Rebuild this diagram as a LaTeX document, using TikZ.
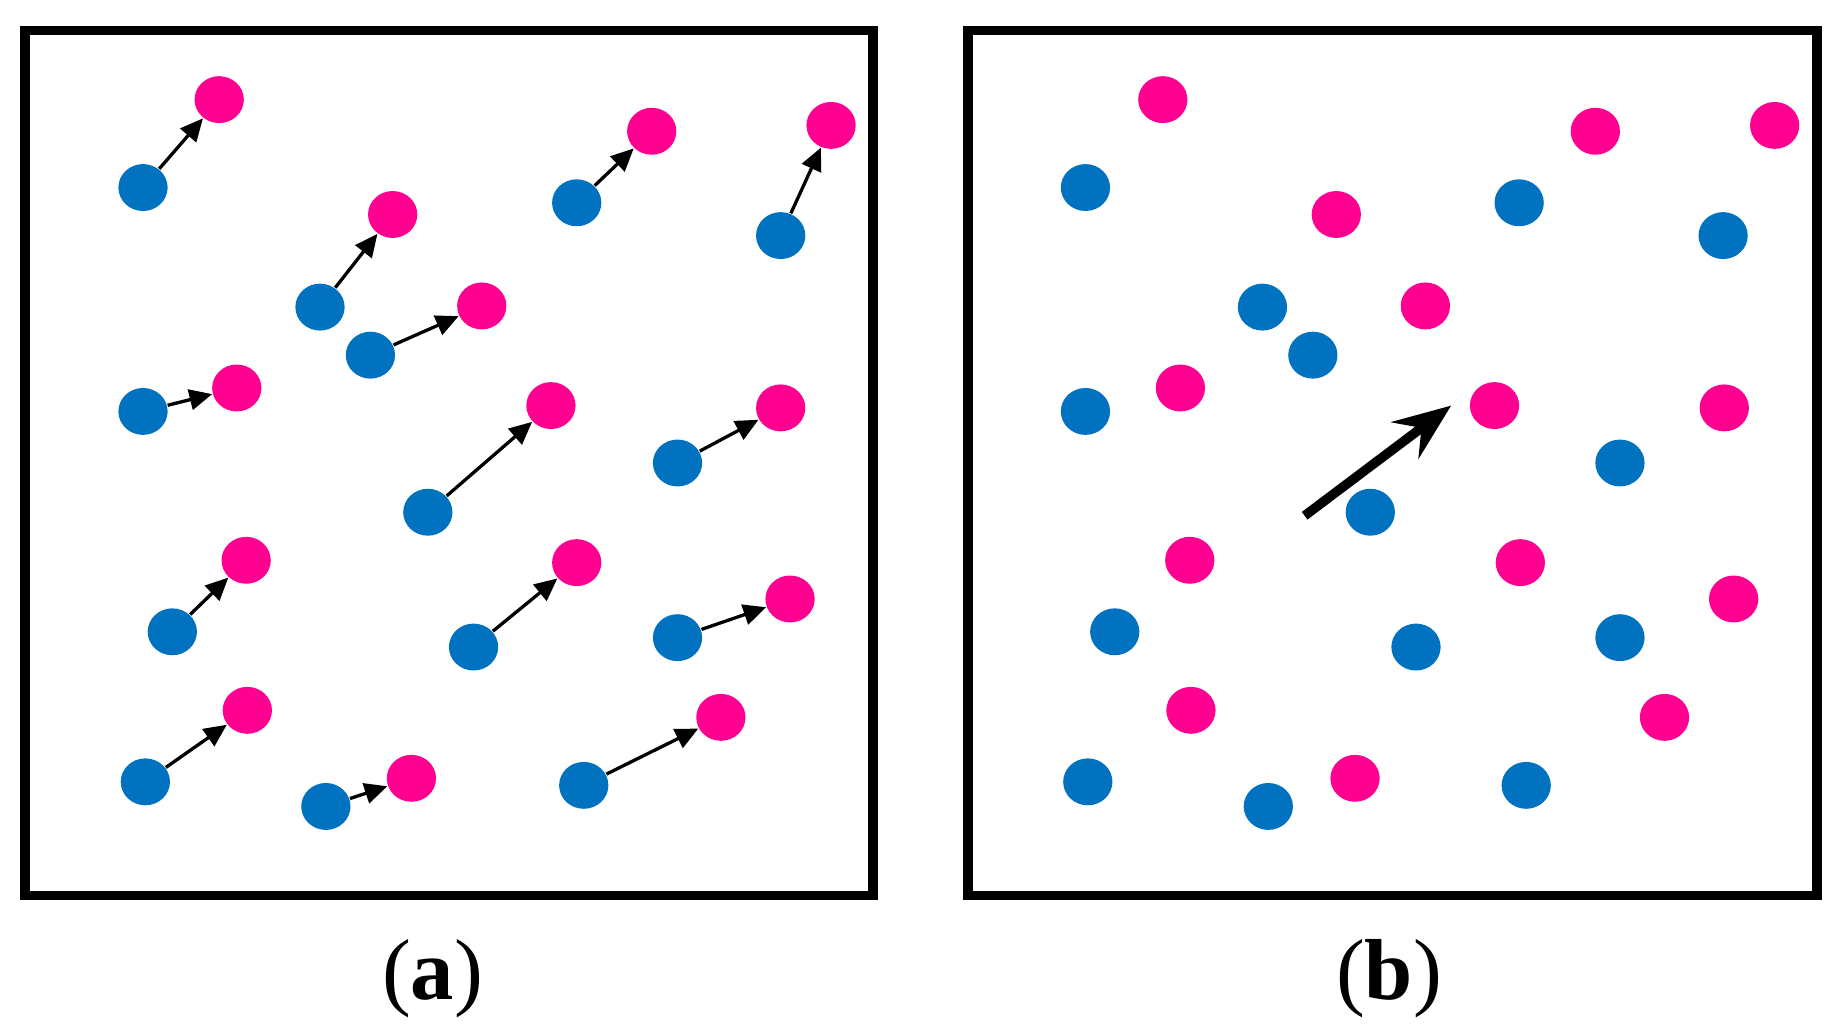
\documentclass[tikz,border=0pt]{standalone}
\usepackage{fontspec}
\setmainfont{Liberation Serif}
\usetikzlibrary{arrows.meta,shapes.geometric}
\definecolor{dotblue}{RGB}{0,114,192}
\definecolor{dotpink}{RGB}{255,0,144}
\tikzset{
  bdot/.style={ellipse,fill=dotblue,draw=none,minimum width=0.42cm,minimum height=0.4cm,inner sep=0pt},
  pdot/.style={ellipse,fill=dotpink,draw=none,minimum width=0.42cm,minimum height=0.4cm,inner sep=0pt},
  frame/.style={draw=black,line width=2.4pt},
  movearrow/.style={-{Triangle[length=5.5pt,width=5pt]},line width=0.8pt,black},
  bigarrow/.style={-{Stealth[length=14pt,width=11pt,inset=5pt]},line width=2.3pt,black},
  caption/.style={font=\fontsize{21}{24}\selectfont,inner sep=0pt}
}
\begin{document}
\begin{tikzpicture}[x=0.01cm,y=-0.01cm]
\useasboundingbox (0,0) rectangle (1568,883);
% frames
\draw[frame] (21,26) rectangle (745,764);
\draw[frame] (826,26) rectangle (1550,764);
% panel (a)
\foreach \i/\bx/\by/\px/\py in {
 1/122/160/187/85, 2/273/262/335/183, 3/316/303/411/261, 4/492/173/556/112,
 5/666/201/709/107, 6/122/351/202/331, 7/365/437/470/346, 8/578/395/666/348,
 9/147/539/210/478, 10/404/552/492/480, 11/578/544/674/511, 12/124/667/211/606,
 13/278/688/351/664, 14/498/670/615/612}{
  \node[bdot] (ab\i) at (\bx,\by) {};
  \node[pdot] (ap\i) at (\px,\py) {};
  \draw[movearrow] (ab\i) -- (ap\i);
}
% panel (b)
\foreach \i/\bx/\by/\px/\py in {
 1/122/160/187/85, 2/273/262/335/183, 3/316/303/411/261, 4/492/173/556/112,
 5/666/201/709/107, 6/122/351/202/331, 7/365/437/470/346, 8/578/395/666/348,
 9/147/539/210/478, 10/404/552/492/480, 11/578/544/674/511, 12/124/667/211/606,
 13/278/688/351/664, 14/498/670/615/612}{
  \node[bdot] (bb\i) at (\bx+804,\by) {};
  \node[pdot] (bp\i) at (\px+805,\py) {};
}
\coordinate (arrS) at (1113,440);
\coordinate (arrE) at (1238,346);
\draw[bigarrow] (arrS) -- (arrE);
% captions
\node[caption] (capa) at (369,835) {(\textbf{a})};
\node[caption] (capb) at (1185,835) {(\textbf{b})};
\end{tikzpicture}
\end{document}
